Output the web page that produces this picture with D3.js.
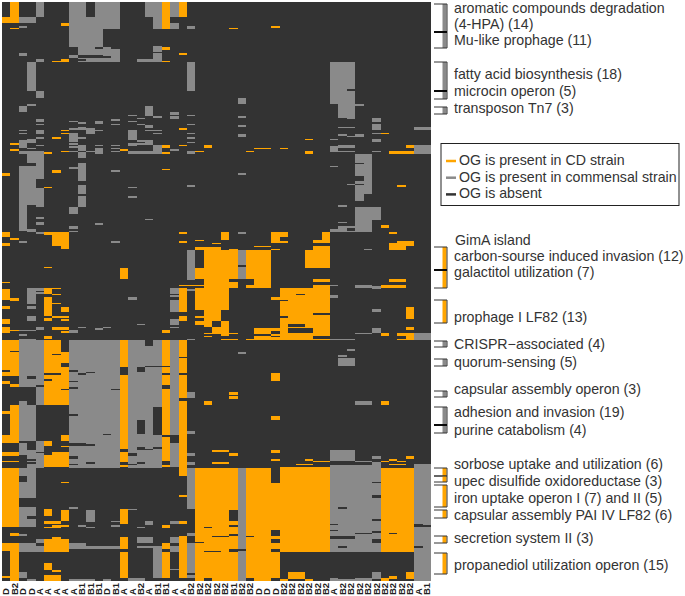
<!DOCTYPE html>
<html><head><meta charset="utf-8">
<script src="https://cdnjs.cloudflare.com/ajax/libs/d3/7.8.5/d3.min.js"></script>
<style>html,body{margin:0;padding:0;background:#fff}svg{display:block}</style>
</head><body><svg id="c" width="685" height="596"></svg>
<script>
const strains = ["D","B2","D","D","A","A","A","A","A","B1","B1","B1","D","B1","A","A","B2","A","B1","B1","A","A","B2","B2","B2","B2","B2","B1","B2","B2","D","D","D","B2","B2","B2","B2","B2","B2","A","B2","B2","B2","B2","B2","B2","B2","B2","B2","A","B1"];
const rowCount = 385;
// blocks: [first column, column after last, first row, row after last]
const commensal = [
[2,4,10,14],[4,5,0,10],[2,3,16,17],[8,10,0,30],[10,11,10,30],[11,14,0,18],[11,12,18,30],
[10,12,30,35],[9,10,30,35],[12,13,30,40],[13,14,31,40],[10,14,37,40],[9,10,37,38],[9,10,39,40],[8,9,35,37],
[2,3,34,36],[4,5,38,40],[3,4,40,59],[4,5,59,64],
[17,19,0,10],[18,19,10,18],[20,21,0,10],[20,21,14,18],[22,23,16,18],[18,19,29,33],[16,19,38,40],[18,19,34,40],[22,23,40,59],
[3,4,68,69],[2,3,69,73],[17,18,69,76],[20,21,73,75],[20,21,76,78],[22,23,75,76],[18,19,76,77],[15,16,75,76],[16,17,77,78],[15,16,79,80],[16,17,81,82],[17,18,82,84],
[13,14,78,79],[13,14,81,82],[11,12,79,81],[9,10,80,81],[8,9,79,80],[9,10,83,84],[10,11,84,88],[8,10,84,85],[11,12,85,86],
[4,5,78,79],[4,5,79,80],[4,5,81,82],[4,5,85,88],[2,3,85,86],[2,3,87,88],[22,23,81,82],[22,23,87,88],[22,23,90,91],[22,23,93,94],
[8,9,87,93],[9,10,90,91],[15,16,85,92],[17,19,85,86],[18,19,87,88],[16,18,92,93],[17,18,92,95],[15,16,94,96],[18,19,95,99],[16,17,94,95],
[2,3,92,97],[3,4,91,94],[4,5,90,91],[4,5,95,96],[3,4,97,98],[2,5,99,101],
[8,9,94,95],[8,9,96,97],[8,9,99,100],[9,10,95,99],[9,10,100,104],[10,11,99,100],[11,12,95,96],[11,12,97,101],[13,14,95,96],[13,14,97,98],[13,14,99,100],
[15,19,99,101],[20,21,98,99],[22,23,99,101],[3,5,100,108],[2,4,109,132],[4,5,108,118],[4,5,124,132],
[8,9,110,111],[9,10,107,119],[9,10,122,128],[9,10,129,132],[13,14,112,113],[15,16,123,124],[15,16,129,130],[22,23,122,123],
[2,3,132,152],[3,4,132,135],[3,4,151,153],[4,5,132,136],[4,5,140,141],[4,5,143,144],[4,5,146,148],[4,5,153,154],
[9,10,132,136],[8,9,136,141],[8,9,149,151],[8,9,152,153],[11,12,147,148],[17,18,144,145],
[2,3,159,160],[13,14,159,160],[22,23,165,185],[3,4,190,201],[4,5,190,192],[4,5,193,194],[3,4,202,204],[3,4,209,212],[2,4,218,219],[4,5,216,218],[2,3,221,222],
[8,9,218,220],[9,10,216,217],[11,12,217,218],[12,13,216,217],[15,16,196,198],[16,17,214,215],
[20,21,190,194],[20,21,195,196],[20,21,198,206],[22,23,191,192],[20,21,211,212],[20,21,212,215],[20,21,216,217],
[2,4,224,256],[4,5,225,256],[4,5,256,265],[8,14,225,265],[15,19,225,265],[20,21,225,265],[22,23,224,225],[22,23,259,262],[22,23,262,263],
[2,3,265,293],[3,4,268,293],[4,5,265,268],[2,3,293,301],[3,4,298,310],[4,5,292,310],
[2,4,310,330],[2,4,336,349],[2,3,354,355],[4,5,357,360],[2,4,360,366],[4,5,362,366],[2,3,379,383],[3,4,384,385],
[8,14,265,310],[15,19,265,310],[20,21,265,288],[20,21,293,309],
[22,23,285,287],[22,23,300,302],[22,23,306,308],[22,23,310,337],[22,23,353,355],[22,23,360,380],[22,23,381,383],
[10,11,338,346],[9,10,348,349],[10,11,349,350],[8,9,336,337],[13,14,345,346],[13,14,348,349],[15,16,337,338],
[16,18,356,360],[17,18,345,348],[16,17,349,350],[8,10,360,364],[10,14,362,364],[16,19,362,363],[18,19,363,383],[15,17,383,385],[8,11,384,385],[12,13,384,385],
[20,21,356,360],[20,21,362,366],[20,21,345,347],[20,21,377,378],
// right half
[28,29,64,68],[28,29,76,77],[28,29,82,83],[28,29,88,90],[28,29,114,115],[28,29,153,154],
[39,42,40,68],[40,42,68,77],[41,42,77,78],[42,43,68,69],[40,42,83,84],[40,41,88,89],[41,43,89,90],[42,43,88,89],
[44,45,77,80],[44,45,81,85],[44,45,87,88],[44,45,91,93],[39,40,91,92],[39,40,96,100],[40,42,95,97],[40,42,99,100],[44,45,99,100],[39,40,109,110],
[49,51,83,85],[49,51,95,101],[42,44,101,125],[42,43,125,132],[43,44,125,128],[41,42,121,122],
[42,45,136,145],[42,44,145,153],[40,42,149,153],[39,40,151,153],[40,41,135,136],[40,41,146,147],[43,44,164,165],
[28,29,165,184],[39,40,188,189],[39,40,195,197],[39,42,224,225],[42,44,188,190],[44,45,189,191],[44,45,204,206],[44,45,217,220],[42,44,220,221],[49,51,220,225],
[28,29,233,234],[40,41,235,236],[41,42,231,232],[40,42,237,242],
[42,44,265,268],[39,42,298,305],[44,45,302,304],[44,45,306,308],[42,44,305,306],
[28,29,310,385],[39,45,308,366],[49,51,307,385],[39,40,383,385],[42,44,383,385],[44,45,379,384],[40,42,384,385]
];
const present = [
[1,2,0,14],[0,1,10,14],[1,2,17,18],[7,8,14,16],[19,20,0,18],[21,22,0,10],[19,20,30,32],[21,22,34,35],[19,20,39,40],[6,7,39,40],[7,8,38,40],
[21,22,84,85],[7,8,85,86],[7,8,87,88],[6,7,90,91],[19,20,95,97],[21,22,95,96],[24,25,95,97],[1,2,94,95],[1,2,98,99],[5,6,100,101],[7,8,99,100],[14,15,98,99],[19,20,100,101],[23,24,99,100],
[0,1,114,116],[6,7,112,114],[5,6,123,124],[19,20,111,112],
[0,1,153,156],[0,1,160,162],[1,2,157,158],[5,6,153,155],[6,7,153,162],[7,8,153,164],[21,22,153,154],[21,22,159,160],[23,24,158,159],[25,26,160,161],
[23,24,163,165],[24,26,163,190],[23,24,177,184],[5,6,176,177],[14,15,177,184],[0,1,186,187],[0,1,191,198],[1,2,197,199],[0,1,202,204],[0,1,211,212],[0,1,212,214],[0,1,216,220],[1,2,218,219],
[5,6,190,194],[6,7,190,191],[6,7,194,195],[5,6,196,209],[5,6,210,212],[6,7,200,201],[6,7,209,210],[7,8,203,206],[7,8,209,210],[7,8,211,212],[6,8,216,218],[7,8,219,220],[19,20,218,220],[5,6,222,224],
[21,22,190,206],[21,24,188,189],[23,24,190,203],[23,24,203,205],[24,26,190,212],[23,24,209,210],[23,24,212,215],[24,25,212,216],[25,26,216,221],[24,25,220,221],[24,25,222,223],[21,22,209,212],
[0,2,225,249],[0,1,252,254],[1,2,254,256],[5,7,225,265],[7,8,233,265],[14,15,225,265],[19,20,225,265],[21,22,225,263],
[1,2,268,293],[0,1,272,274],[0,1,288,293],[0,2,299,302],[0,2,305,306],[0,2,310,349],[1,2,353,355],[0,1,360,365],[1,2,360,385],[0,1,382,383],
[5,8,265,268],[5,6,292,295],[5,6,301,309],[6,8,299,309],[7,8,288,292],[7,8,295,296],[7,8,319,320],[5,6,337,342],[7,8,338,345],[5,7,345,347],[5,6,349,350],[6,7,348,350],[7,8,348,349],
[5,6,357,366],[6,7,356,366],[7,8,357,366],[5,6,373,378],[6,7,378,379],[5,7,381,385],
[14,15,265,309],[14,15,337,347],[14,15,356,364],[14,15,366,383],[19,20,265,305],[19,20,308,309],[19,20,348,350],[19,20,360,364],[19,20,366,383],
[21,22,265,315],[21,22,328,329],[21,22,345,347],[21,22,355,383],[23,26,310,385],[25,26,298,299],[25,26,306,307],[24,25,265,268],
// right half
[27,28,17,18],[32,33,16,17],[36,37,91,92],[36,37,99,101],[30,32,97,98],[33,34,97,98],[29,30,99,100],[48,49,95,97],[46,49,99,101],[45,46,87,88],[47,48,122,123],
[45,46,148,150],[46,47,153,154],[46,47,160,165],[47,48,159,165],[48,49,159,162],
[26,27,153,158],[32,34,153,156],[32,33,156,160],[33,34,159,160],[38,39,153,160],[37,38,158,160],
[26,27,165,205],[27,28,164,184],[29,30,165,184],[29,30,188,190],[30,32,165,190],[30,32,162,163],[32,33,164,165],[27,28,186,190],
[36,37,165,177],[37,39,162,177],[37,39,184,186],[33,39,190,225],[37,39,188,190],[32,33,196,198],
[26,27,212,222],[26,28,224,225],[27,28,220,221],[29,30,224,225],[30,33,217,225],
[45,48,188,190],[46,48,184,186],[48,49,204,211],[48,49,203,204],[48,49,216,218],[45,46,220,222],[47,48,220,222],[48,49,220,225],[47,48,224,225],
[32,33,247,252],[27,28,259,261],[27,28,262,264],[45,46,265,268],[32,33,275,278],
[26,27,298,299],[27,28,300,302],[26,27,306,307],[32,33,298,300],[32,33,304,305],[36,37,304,305],[35,37,307,308],[37,39,305,306],
[45,46,305,306],[46,47,304,305],[46,48,307,308],[47,48,305,306],[48,49,302,304],
[26,28,310,385],[29,33,310,383],[33,39,309,366],[45,49,310,366],[33,34,384,385],[34,36,379,384],[36,37,384,385],[30,32,383,385],[45,46,383,385],[46,47,382,384],[48,49,379,384]
];
const absent = [
[10,13,36,37],[11,12,30,31],[3,4,107,108],[42,43,107,108],[42,43,116,119],[42,43,121,122],[41,42,58,59],
[4,5,140,141],[27,28,184,186],[41,42,150,152],[28,29,175,176],[35,36,194,195],[33,34,198,199],[37,39,207,208],[33,34,209,210],
[34,36,214,216],[34,37,217,220],[37,39,222,224],[32,33,198,199],[30,32,221,222],[32,33,219,221],[32,33,222,223],[27,28,221,222],[47,48,222,224],
[1,2,232,233],[0,1,245,246],[3,4,249,251],[5,7,247,248],[5,6,251,252],[6,7,234,235],[7,8,240,243],[7,8,257,258],
[8,9,245,246],[9,10,247,248],[10,11,246,247],[8,9,252,253],[8,9,256,257],[13,14,257,258],
[14,15,243,248],[16,17,243,246],[17,19,242,243],[17,18,225,229],[19,20,242,243],[19,20,247,248],[19,20,255,257],[21,22,236,237],[21,22,247,248],
[7,8,225,233],[4,5,255,256],
[2,4,292,293],[3,4,293,298],[4,5,299,300],[2,3,304,310],[3,4,304,305],[3,4,306,307],[2,3,315,319],[3,4,342,344],[4,5,360,362],[8,10,293,295],[10,11,294,295],
[8,9,274,275],[12,13,287,288],[10,11,306,307],[8,9,302,304],[8,9,307,308],
[14,15,297,299],[14,15,306,308],[16,17,278,287],[18,19,269,288],[15,16,300,302],[16,17,296,298],[17,18,297,298],[18,19,296,297],[16,17,306,307],[15,16,307,308],
[19,20,288,289],[19,20,305,308],[20,21,288,293],[22,23,337,338],[22,23,380,381],
[24,25,349,350],[25,26,355,356],[24,26,365,366],[23,24,359,360],[24,25,383,385],
[12,13,364,366],
[27,28,338,345],[27,28,348,349],[26,27,355,356],[27,28,354,355],[27,28,364,365],[27,28,365,366],[29,30,355,356],
[32,33,309,320],[32,33,351,355],[32,33,357,360],[32,33,364,366],[29,30,383,385],[28,29,364,365],
[39,40,347,348],[39,40,351,352],[39,42,355,357],[40,41,336,337],[44,45,319,320],[44,45,328,330],[44,45,344,345],[44,45,352,353],[44,45,357,360],[42,44,353,354],[40,41,362,363],
[46,47,353,354],[49,50,347,349],[50,51,348,349],[49,50,362,363]
];
const groups = [
 {label:"aromatic compounds degradation",y0:4,y1:32,kind:"c",ty:12.5},
 {label:"(4-HPA) (14)",y0:null,ty:28.5},
 {label:"Mu-like prophage (11)",y0:32,y1:48,kind:"c",ty:45},
 {label:"fatty acid biosynthesis (18)",y0:62,y1:91,kind:"c",ty:79},
 {label:"microcin operon (5)",y0:91,y1:99,kind:"c",ty:96},
 {label:"transposon Tn7 (3)",y0:107,y1:114,kind:"c",ty:113},
 {label:"GimA island",y0:null,ty:245,x:455},
 {label:"carbon-sourse induced invasion (12)",y0:247,y1:270,kind:"o",ty:261},
 {label:"galactitol utilization (7)",y0:270,y1:288,kind:"o",ty:277},
 {label:"prophage I LF82 (13)",y0:300,y1:323,kind:"o",ty:322},
 {label:"CRISPR−associated (4)",y0:341,y1:347,kind:"c",ty:349},
 {label:"quorum-sensing (5)",y0:359,y1:366,kind:"c",ty:367},
 {label:"capsular assembly operon (3)",y0:391,y1:397,kind:"c",ty:394},
 {label:"adhesion and invasion (19)",y0:407,y1:425,kind:"c",ty:417},
 {label:"purine catabolism (4)",y0:425,y1:433,kind:"c",ty:435},
 {label:"sorbose uptake and utilization (6)",y0:468,y1:476,kind:"o",ty:469},
 {label:"upec disulfide oxidoreductase (3)",y0:476,y1:482,kind:"o",ty:486},
 {label:"iron uptake operon I (7) and II (5)",y0:485,y1:507,kind:"o",ty:503},
 {label:"capsular assembly PAI IV LF82 (6)",y0:510,y1:518,kind:"o",ty:520},
 {label:"secretion system II (3)",y0:536,y1:543,kind:"o",ty:543},
 {label:"propanediol utilization operon (15)",y0:553,y1:574,kind:"o",ty:570}
];
const sharedEnds = [32,91,270,425];
const legendItems = [["OG is present in CD strain","o"],["OG is present in commensal strain","c"],["OG is absent","a"]];
const colors = {a:"#333333",c:"#8a8a8a",o:"#ffa500"};
const inkColor = "#333333";
const font = "'Liberation Sans',Arial,sans-serif";

const svg = d3.select("#c");
const x = d3.scaleBand().domain(d3.range(strains.length)).range([2,431]);
const y = d3.scaleBand().domain(d3.range(rowCount)).range([2,581]);

const matrix = d3.range(rowCount).map(()=>new Array(strains.length).fill("a"));
const paint=(list,s)=>list.forEach(([c0,c1,r0,r1])=>{for(let r=r0;r<r1&&r<rowCount;r++)for(let c=c0;c<c1;c++)matrix[r][c]=s;});
paint(commensal,"c");paint(present,"o");paint(absent,"a");

const runs=[];
strains.forEach((_,c)=>{let r=0;while(r<rowCount){let e=r;while(e<rowCount&&matrix[e][c]===matrix[r][c])e++;runs.push({c,r,e,s:matrix[r][c]});r=e;}});
svg.append("g").attr("shape-rendering","crispEdges").selectAll("rect").data(runs).join("rect")
 .attr("x",d=>x(d.c)).attr("width",x.bandwidth())
 .attr("y",d=>y(d.r)).attr("height",d=>(d.e-d.r)*y.step())
 .attr("fill",d=>colors[d.s]);

svg.append("g").selectAll("text").data(strains).join("text")
 .attr("transform",(d,i)=>`translate(${x(i)+x.bandwidth()/2+3.2},595) rotate(-90)`)
 .attr("font-family",font).attr("font-size",9.5).attr("font-weight","bold").attr("fill","#222").text(d=>d);

const br=svg.append("g");
groups.filter(g=>g.y0!==null).forEach(g=>{
 br.append("rect").attr("x",442.5).attr("width",4).attr("y",g.y0).attr("height",g.y1-g.y0).attr("fill",colors[g.kind]);
 br.append("path").attr("d",`M434,${g.y0}H447V${g.y1}H434`).attr("fill","none").attr("stroke","#333").attr("stroke-width",1);
});
br.selectAll("line").data(sharedEnds).join("line")
 .attr("x1",434).attr("x2",447).attr("y1",d=>d).attr("y2",d=>d).attr("stroke","#000").attr("stroke-width",1.8);
svg.append("g").selectAll("text").data(groups).join("text")
 .attr("x",g=>g.x||454).attr("y",g=>g.ty)
 .attr("font-family",font).attr("font-size",14.2).attr("fill",inkColor).text(g=>g.label);

const lg=svg.append("g");
lg.append("rect").attr("x",441).attr("y",143.5).attr("width",238).attr("height",62).attr("fill","#fff").attr("stroke","#222").attr("stroke-width",1);
legendItems.forEach(([t,k],i)=>{
 const by=165+i*16.7;
 lg.append("line").attr("x1",446).attr("x2",456).attr("y1",by-4).attr("y2",by-4).attr("stroke",colors[k]).attr("stroke-width",2.5);
 lg.append("text").attr("x",459).attr("y",by).attr("font-family",font).attr("font-size",14.2).attr("fill",inkColor).text(t);
});
</script></body></html>
